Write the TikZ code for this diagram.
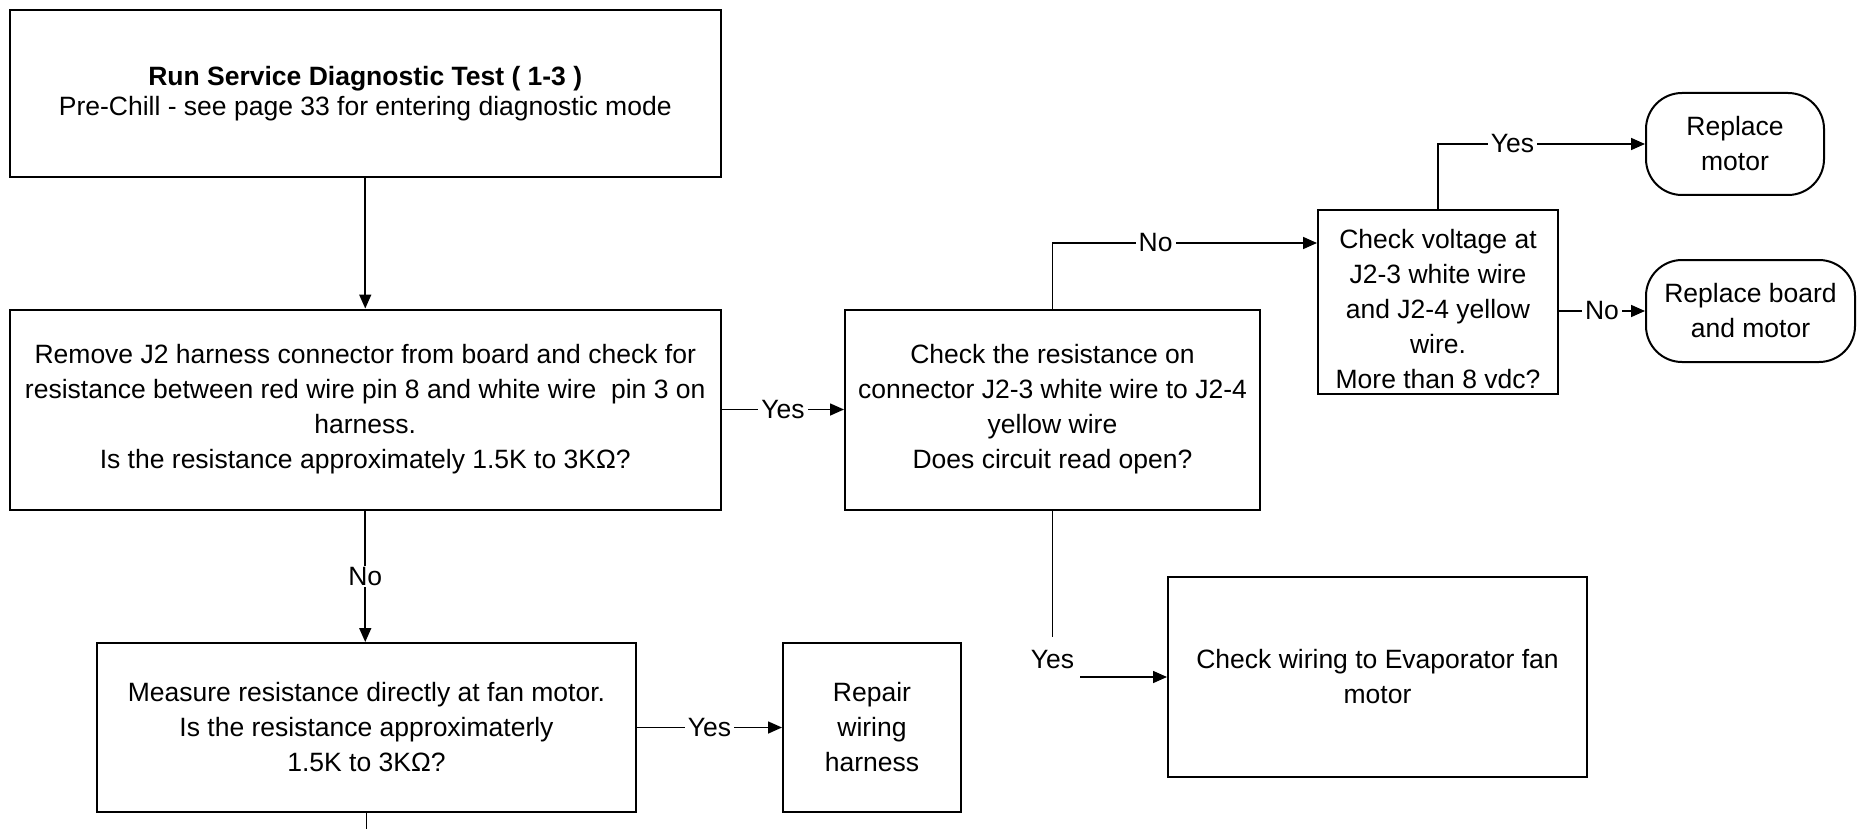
\documentclass[tikz,border=0pt]{standalone}
\usepackage{fontspec}
\setmainfont{Liberation Sans}
\usetikzlibrary{arrows.meta}
\begin{document}
\begin{tikzpicture}[x=1pt,y=-1pt,
  every node/.style={font=\fontsize{26.5pt}{35pt}\selectfont},
  procbox/.style={draw, line width=2pt, align=center, inner sep=0pt},
  termbox/.style={draw, line width=2pt, align=center, inner sep=0pt, rounded corners=36pt},
  wire/.style={line width=1.6pt},
  conn/.style={line width=1.6pt, -{Triangle[length=14pt,width=12pt]}},
  lbl/.style={fill=white, inner xsep=3pt, inner ysep=1pt}
]
\useasboundingbox (0,0) rectangle (1860,829);

% process boxes
\node[procbox, minimum width=711.5pt, minimum height=167pt] (start) at (365.25,93.5)
  {\bfseries Run Service Diagnostic Test ( 1-3 )\\[-5pt]Pre-Chill - see page 33 for entering diagnostic mode};
\node[procbox, minimum width=711.5pt, minimum height=200pt] (remove) at (365.25,409.5)
  {Remove J2 harness connector from board and check for\\resistance between red wire pin 8 and white wire~ pin 3 on\\harness.\\Is the resistance approximately 1.5K to 3KΩ?};
\node[procbox, minimum width=539pt, minimum height=169pt] (measure) at (366.5,727.5)
  {Measure resistance directly at fan motor.\\Is the resistance approximaterly\\1.5K to 3KΩ?};
\node[procbox, minimum width=178pt, minimum height=169pt] (repair) at (872,727.5)
  {Repair\\wiring\\harness};
\node[procbox, minimum width=415pt, minimum height=200pt] (chkres) at (1052.5,409.5)
  {Check the resistance on\\connector J2-3 white wire to J2-4\\yellow wire\\Does circuit read open?};
% the voltage check box: its text sits a little below the middle
\node[procbox, minimum width=240pt, minimum height=184pt] (chkvolt) at (1438,302) {};
\node[align=center, inner sep=0pt] (chkvolttext) at ([yshift=-7pt]chkvolt.center)
  {Check voltage at\\J2-3 white wire\\and J2-4 yellow\\wire.\\More than 8 vdc?};
\node[procbox, minimum width=419pt, minimum height=200pt] (wiring) at (1377.5,677)
  {Check wiring to Evaporator fan\\motor};

% terminal boxes
\node[termbox, minimum width=178pt, minimum height=102pt] (replmotor) at (1735,144)
  {Replace\\motor};
\node[termbox, minimum width=209pt, minimum height=102pt] (replboard) at (1750.5,311)
  {Replace board\\and motor};

% connectors
\draw[conn] (start.south) -- (remove.north);
\draw[conn] (remove.south) -- node[lbl]{No} (remove.south |- measure.north);
\draw[conn] (remove.east) -- node[lbl]{Yes} (chkres.west);
\draw[conn] (measure.east) -- node[lbl]{Yes} (repair.west);
\coordinate (bottomout) at (366.5,829);
\draw[wire] (measure.south) -- (bottomout);

\coordinate (nobend) at (1052.5,243);
\draw[conn] (chkres.north) -- (nobend) -- node[lbl, pos=0.39]{No} (nobend -| chkvolt.west);

\coordinate (yesdrop) at (1052.5,637);
\draw[wire] (chkres.south) -- (yesdrop);
\node (yesdown) at (1052.5,660) {Yes};
\coordinate (yesfrom) at (1080,677);
\draw[conn] (yesfrom) -- (wiring.west);

\coordinate (yesbend) at (1438,144);
\draw[conn] (chkvolt.north) -- (yesbend) -- node[lbl, pos=0.36]{Yes} (replmotor.west);
\draw[conn] (replboard.west -| chkvolt.east) -- node[lbl]{No} (replboard.west);
\end{tikzpicture}
\end{document}
